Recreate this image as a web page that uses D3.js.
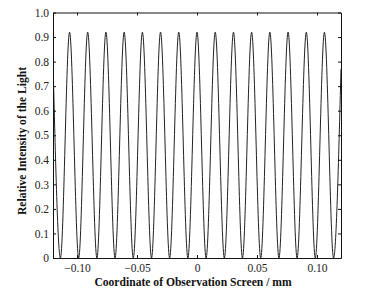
<!DOCTYPE html>
<html><head><meta charset="utf-8">
<script src="https://cdn.jsdelivr.net/npm/d3@7"></script>
<style>
html,body{margin:0;padding:0;background:#fff;}
svg{display:block;font-family:"Liberation Serif","Times New Roman",serif;}
</style></head>
<body>
<svg id="c" width="375" height="300"></svg>
<script>
// Fringe sample points (peaks, minima, edges)
const positionMm = [-0.120, -0.1138, -0.1062, -0.0986, -0.0911, -0.0834, -0.0759, -0.0683, -0.0607, -0.0531,
  -0.0455, -0.0379, -0.0304, -0.0228, -0.0152, -0.0076, 0, 0.0076, 0.0152, 0.0228, 0.0304, 0.0379, 0.0455,
  0.0531, 0.0607, 0.0683, 0.0759, 0.0834, 0.0911, 0.0986, 0.1062, 0.1138, 0.120];
const intensity = [0.80, 0, 0.92, 0, 0.92, 0, 0.92, 0, 0.92, 0, 0.92, 0, 0.92, 0, 0.92, 0, 0.92,
  0, 0.92, 0, 0.92, 0, 0.92, 0, 0.92, 0, 0.92, 0, 0.92, 0, 0.92, 0, 0.77];
const xTicks = [-0.10, -0.05, 0, 0.05, 0.10];
const xTickLabels = ["\u22120.10", "\u22120.05", "0", "0.05", "0.10"];
const yTicks = [0, 0.1, 0.2, 0.3, 0.4, 0.5, 0.6, 0.7, 0.8, 0.9, 1.0];
const yTickLabels = ["0", "0.1", "0.2", "0.3", "0.4", "0.5", "0.6", "0.7", "0.8", "0.9", "1.0"];
const xTitle = "Coordinate of Observation Screen / mm";
const yTitle = "Relative Intensity of the Light";

const svg = d3.select("#c");
const L = 53, R = 341, T = 12.5, B = 258;
const x = d3.scaleLinear().domain([-0.12, 0.12]).range([L, R]);
const y = d3.scaleLinear().domain([0, 1]).range([B, T]);

const data = positionMm.map((v, i) => ({x: v, y: intensity[i]}));

svg.append("defs").append("clipPath").attr("id", "clip")
  .append("rect").attr("x", L).attr("y", T).attr("width", R - L).attr("height", B - T);

svg.append("path").datum(data)
  .attr("clip-path", "url(#clip)")
  .attr("fill", "none").attr("stroke", "#222").attr("stroke-width", 1)
  .attr("d", d3.line().x(d => x(d.x)).y(d => y(d.y)).curve(d3.curveMonotoneX));

const fmtX = (d, i) => xTickLabels[i];
const fmtY = (d, i) => yTickLabels[i];

const gB = svg.append("g").attr("transform", `translate(0,${B})`)
  .call(d3.axisBottom(x).tickValues(xTicks).tickFormat(fmtX).tickSizeInner(-3).tickSizeOuter(0).tickPadding(6));
const gT = svg.append("g").attr("transform", `translate(0,${T})`)
  .call(d3.axisTop(x).tickValues(xTicks).tickFormat("").tickSizeInner(-3).tickSizeOuter(0));
const gL = svg.append("g").attr("transform", `translate(${L},0)`)
  .call(d3.axisLeft(y).tickValues(yTicks).tickFormat(fmtY).tickSizeInner(-3).tickSizeOuter(0).tickPadding(4));
const gR = svg.append("g").attr("transform", `translate(${R},0)`)
  .call(d3.axisRight(y).tickValues(yTicks).tickFormat("").tickSizeInner(-3).tickSizeOuter(0));

[gB, gT, gL, gR].forEach(g => {
  g.selectAll("path").attr("stroke", "#111").attr("stroke-width", 1);
  g.selectAll("line").attr("stroke", "#111");
  g.selectAll("text").attr("fill", "#222").style("font-family", '"Liberation Serif",serif').style("font-size", "11.5px");
});

svg.append("text").attr("x", 193).attr("y", 285.5).attr("text-anchor", "middle")
  .style("font-weight", "bold").style("font-size", "11.6px").attr("fill", "#111").text(xTitle);
svg.append("text").attr("transform", `translate(26,141) rotate(-90)`).attr("text-anchor", "middle")
  .style("font-weight", "bold").style("font-size", "11.6px").attr("fill", "#111").text(yTitle);
</script>
</body></html>
